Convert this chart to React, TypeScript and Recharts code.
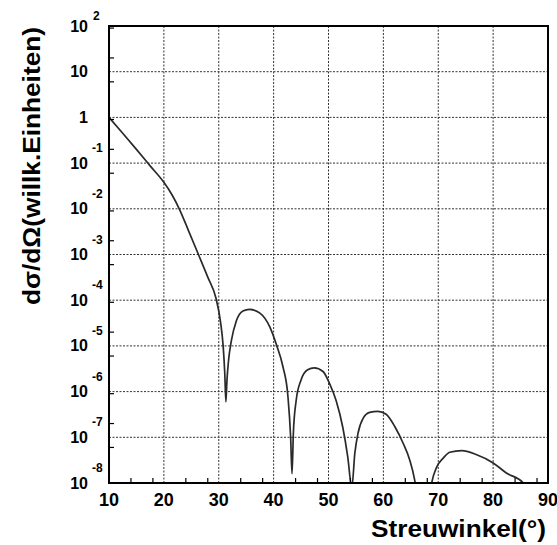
import React from 'react';
import {
  LineChart,
  Line,
  XAxis,
  YAxis,
  CartesianGrid,
  ReferenceArea
} from 'recharts';

// scattering angle (deg) and cross section (arbitrary units)
const angles = [
  10, 12.5, 15, 17.5, 20, 21.5, 22.8, 24.5, 26.3, 28.0, 29.5, 30.3, 30.8, 31.1, 31.3,
  31.5, 31.8, 32.3, 33.2, 34.4, 35.6, 37.5, 39.3, 40.5, 41.7, 42.6, 43.1, 43.35,
  43.6, 44.1, 45.0, 46.2, 47.4, 49.0, 50.2, 51.4, 52.6, 53.5, 54.25,
  54.8, 55.4, 56.3, 57.5, 59.0, 60.5, 62.1, 63.6, 64.8, 65.7, 66.5, 67.4,
  68.3, 68.8, 69.7, 70.9, 72.1, 74.3, 76.9, 80.0, 82.4, 85.5, 87.5
];
const sigma = [
  1, 0.45, 0.2, 0.087, 0.038, 0.02, 0.01, 3.3e-3, 1e-3, 3.2e-4, 1.1e-4, 3.5e-5, 1e-5, 2.5e-6, 6e-7,
  1.8e-6, 5e-6, 1.3e-5, 3.5e-5, 5.8e-5, 6.3e-5, 5.2e-5, 2.6e-5, 1.07e-5, 3.5e-6, 8e-7, 1e-7, 1.6e-8,
  1.26e-7, 6.3e-7, 1.8e-6, 3e-6, 3.3e-6, 2.75e-6, 1.5e-6, 6.3e-7, 1.66e-7, 3.8e-8, 8e-9,
  4.5e-8, 1.26e-7, 2.6e-7, 3.5e-7, 3.7e-7, 3.2e-7, 1.7e-7, 7.4e-8, 3.2e-8, 1.17e-8, 2.5e-9, 3e-10,
  4e-9, 1e-8, 2.2e-8, 3.5e-8, 4.7e-8, 5.1e-8, 4.2e-8, 2.75e-8, 1.66e-8, 1e-8, 3.2e-9
];

const xTicks = [10, 20, 30, 40, 50, 60, 70, 80, 90];
const xMinorTicks = [
  12, 14, 16, 18, 22, 24, 26, 28, 32, 34, 36, 38, 42, 44, 46, 48,
  52, 54, 56, 58, 62, 64, 66, 68, 72, 74, 76, 78, 82, 84, 86, 88
];
const yTicks = [1e-8, 1e-7, 1e-6, 1e-5, 1e-4, 1e-3, 1e-2, 1e-1, 1, 10, 100];
// 2..9 inside each decade
const yMinorTicks = yTicks.slice(0, -1).flatMap(d => [2, 3, 4, 5, 6, 7, 8, 9].map(m => m * d));

const data = angles.map((a, i) => ({ angle: a, sigma: sigma[i] }));

const FONT = '"Liberation Sans", Arial, sans-serif';
const INK = 'black';
const W = 557;
const H = 545;
const MARGIN = { top: 26, right: 9, bottom: 0, left: 0 };

const YTick = ({ x, y, payload }: any) => {
  const exp = Math.round(Math.log10(payload.value));
  if (exp === 0 || exp === 1) {
    return (
      <text x={x} y={y} textAnchor="end" dominantBaseline="central"
        fontFamily={FONT} fontSize={16} fontWeight="bold" fill={INK}>
        {exp === 0 ? '1' : '10'}
      </text>
    );
  }
  return (
    <g>
      <text x={x} y={y} textAnchor="end" dominantBaseline="central"
        fontFamily={FONT} fontSize={16} fontWeight="bold" fill={INK}>
        10
      </text>
      <text x={x + (exp > 0 ? 5 : 4)} y={y - (exp > 0 ? 10 : 15)} textAnchor="start" dominantBaseline="central"
        fontFamily={FONT} fontSize={12} fontWeight="bold" fill={INK}>
        {exp}
      </text>
    </g>
  );
};

const XTick = ({ x, y, payload }: any) => (
  <text x={x} y={y} dy="0.72em" textAnchor="middle"
    fontFamily={FONT} fontSize={18} fontWeight="bold" fill={INK}>
    {payload.value}
  </text>
);

const hiddenText = { fill: 'transparent' };
const frameLine = { stroke: 'black', strokeWidth: 2 };
const minorLine = { stroke: 'black', strokeWidth: 1.2 };

// grid, curve and labels
function MainChart() {
  return (
    <LineChart width={W} height={H} data={data} margin={MARGIN}>
      <CartesianGrid stroke="#333333" strokeDasharray="2 1.5" />
      <XAxis dataKey="angle" type="number" domain={[10, 90]} ticks={xTicks}
        height={62} axisLine={false} tickLine={false}
        tickMargin={4} tick={<XTick />}
        label={{
          content: () => (
            <text x={546} y={537} textAnchor="end" fontFamily={FONT} fontSize={23}
              fontWeight="bold" fill={INK} textLength={175} lengthAdjust="spacingAndGlyphs">
              Streuwinkel(°)
            </text>
          )
        }} />
      <YAxis scale="log" domain={[1e-8, 100]} ticks={yTicks} allowDataOverflow
        width={109} axisLine={false} tickLine={false} tickMargin={15}
        tick={<YTick />}
        label={{
          content: () => (
            <text x={40} y={166} transform="rotate(-90 40 166)" textAnchor="middle"
              fontFamily={FONT} fontSize={23} fontWeight="bold" fill={INK}
              textLength={278} lengthAdjust="spacingAndGlyphs">
              dσ/dΩ(willk.Einheiten)
            </text>
          )
        }} />
      <Line type="monotone" dataKey="sigma" stroke="#2a2a2a" strokeWidth={1.7}
        dot={false} isAnimationActive={false} />
    </LineChart>
  );
}

// frame and inward minor ticks, same scales laid over the main chart
function FrameChart() {
  return (
    <LineChart width={W} height={H} data={data} margin={MARGIN}>
      <XAxis dataKey="angle" type="number" domain={[10, 90]} ticks={xTicks} height={62}
        stroke="black" axisLine={frameLine} tickLine={{ stroke: 'transparent' }} tick={hiddenText} />
      <XAxis xAxisId="minor" dataKey="angle" type="number" domain={[10, 90]} ticks={xMinorTicks}
        mirror height={10} stroke="black" tickSize={5} tickLine={minorLine} tick={hiddenText} />
      <YAxis scale="log" domain={[1e-8, 100]} ticks={yTicks} allowDataOverflow width={109}
        stroke="black" axisLine={frameLine} tickLine={{ stroke: 'transparent' }} tick={hiddenText} />
      <YAxis yAxisId="minor" scale="log" domain={[1e-8, 100]} ticks={yMinorTicks}
        allowDataOverflow mirror width={20} stroke="black" tickSize={5} tickLine={minorLine} tick={hiddenText} />
      <ReferenceArea x1={10} x2={90} y1={1e-8} y2={100} stroke="black" strokeWidth={2}
        fill="white" fillOpacity={0} />
    </LineChart>
  );
}

export default function App() {
  return (
    <div style={{ position: 'absolute', left: 0, top: 0, width: W, height: H, background: 'white' }}>
      <div style={{ position: 'absolute', left: 0, top: 0 }}>
        <MainChart />
      </div>
      <div style={{ position: 'absolute', left: 0, top: 0, pointerEvents: 'none' }}>
        <FrameChart />
      </div>
    </div>
  );
}
